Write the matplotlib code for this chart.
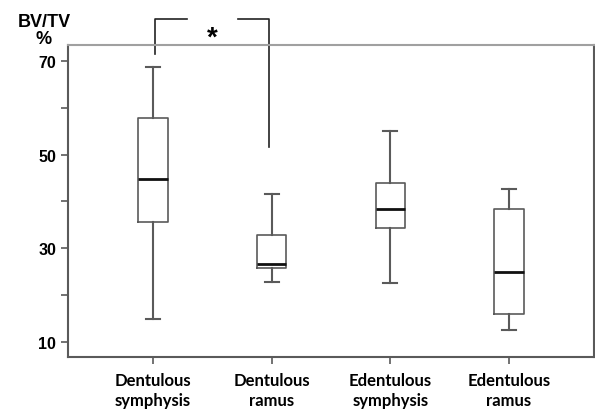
import matplotlib.pyplot as plt

# group labels and box statistics (BV/TV %)
groups = ['Dentulous\nsymphysis', 'Dentulous\nramus', 'Edentulous\nsymphysis', 'Edentulous\nramus']
whislo = [15.0, 22.9, 22.6, 12.6]
q1 = [35.6, 25.7, 34.3, 16.0]
med = [44.7, 26.7, 38.3, 25.0]
q3 = [57.8, 32.8, 44.0, 38.3]
whishi = [68.7, 41.5, 55.0, 42.7]

stats = []
for i in range(len(groups)):
    stats.append({'label': groups[i], 'whislo': whislo[i], 'q1': q1[i], 'med': med[i],
                  'q3': q3[i], 'whishi': whishi[i], 'fliers': []})

fig = plt.figure(figsize=(5.95, 4.10), dpi=100)
ax = fig.add_axes([68 / 595, 1 - 358 / 410, 526 / 595, 312 / 410])

edge = '#5a5a5a'
ax.bxp(stats, positions=[1, 2, 3, 4], widths=0.25, showfliers=False,
       boxprops=dict(color=edge, lw=1.2),
       medianprops=dict(color='#111111', lw=2),
       whiskerprops=dict(color=edge, lw=1.5),
       capprops=dict(color=edge, lw=1.5),
       capwidths=0.12)

ax.set_xlim(0.284, 4.716)
ax.set_ylim(6.8, 73.4)

ax.set_yticks([10, 30, 50, 70])
ax.set_yticks([20, 40, 60], minor=True)
ax.tick_params(axis='y', which='both', direction='out', length=5, width=1.2, color=edge)
ax.tick_params(axis='x', direction='out', length=5, width=1.2, color=edge, pad=6)
for lab in ax.get_yticklabels():
    lab.set_fontfamily('Liberation Sans')
    lab.set_fontweight('bold')
    lab.set_fontsize(11.5)
ax.set_xticklabels(groups, fontfamily='Lato', fontweight='bold', fontsize=12, linespacing=1.25)

for s in ['left', 'bottom', 'right']:
    ax.spines[s].set_color(edge)
    ax.spines[s].set_linewidth(1.5)
ax.spines['top'].set_color('#a0a0a0')
ax.spines['top'].set_linewidth(1.5)

# significance bracket
bk = dict(color='#222222', lw=1.2, clip_on=False)
ax.plot([1.017, 1.017, 1.286], [71.5, 78.9, 78.9], **bk)
ax.plot([1.716, 1.977, 1.977], [78.9, 78.9, 51.7], **bk)
ax.text(1.5, 75.0, '*', ha='center', va='center', fontsize=20, fontweight='bold',
        fontfamily='Liberation Sans')

# y axis title, two lines above the axis
fig.text(44 / 595, 1 - 31 / 410, 'BV/TV\n%', ha='center', va='center', fontsize=13,
         fontweight='bold', fontfamily='Liberation Sans', linespacing=0.95)

fig.savefig('out.png', dpi=100)
